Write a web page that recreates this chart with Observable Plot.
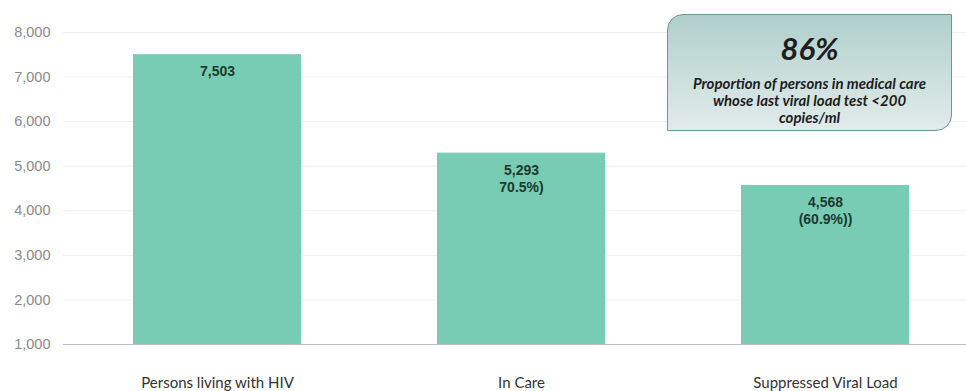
<!DOCTYPE html>
<html>
<head>
<meta charset="utf-8">
<script src="https://cdn.jsdelivr.net/npm/d3@7"></script>
<script src="https://cdn.jsdelivr.net/npm/@observablehq/plot@0.6"></script>
<style>
  html, body { margin: 0; padding: 0; background: #fff; }
  #wrap { position: relative; width: 966px; height: 391px; overflow: hidden; }
  #box {
    position: absolute; left: 667px; top: 14px; width: 285px; height: 117px;
    box-sizing: border-box;
    border: 1.5px solid #6a9896;
    border-radius: 16px 0 16px 0;
    background: linear-gradient(to bottom, #afcfcb 0%, #c9dedb 50%, #e1ebea 100%);
    text-align: center;
    font-family: Lato, "Open Sans", sans-serif;
    font-style: italic; font-weight: bold; color: #1e1e1e;
  }
  #box .big { font-size: 31px; line-height: 30px; margin-top: 18px; }
  #box .small { font-size: 15px; line-height: 17px; margin-top: 12px; }
</style>
</head>
<body>
<div id="wrap"></div>
<script>
const categories = ["Persons living with HIV", "In Care", "Suppressed Viral Load"];
const values = [7503, 5293, 4568];
const valueLabels = ["7,503", "5,293\n70.5%)", "4,568\n(60.9%))"];
const yTicks = [1000, 2000, 3000, 4000, 5000, 6000, 7000, 8000];
const boxHeadline = "86%";
const boxText = ["Proportion of persons in medical care", "whose last viral load test <200", "copies/ml"];

const data = categories.map((c, i) => ({cat: c, value: values[i], label: valueLabels[i]}));

const chart = Plot.plot({
  width: 966,
  height: 391,
  marginLeft: 63,
  marginRight: 0,
  marginTop: 32,
  marginBottom: 47,
  style: {fontFamily: "'Liberation Sans', Arial, sans-serif", background: "#fff"},
  x: {domain: categories, paddingInner: 0.448, paddingOuter: 0.207, align: 0.55, label: null},
  y: {domain: [1000, 8000], label: null},
  marks: [
    Plot.gridY(yTicks, {stroke: "#eeeeee", strokeOpacity: 1}),
    Plot.barY(data, {x: "cat", y1: d => 1000, y2: "value", fill: "#79ccb4"}),
    Plot.ruleY([1000], {stroke: "#bdbdbd", strokeWidth: 1.2}),
    Plot.axisY(yTicks, {tickSize: 0, tickPadding: 13, tickFormat: d3.format(","), fill: "#8a8a8a", fontSize: 14.5, label: null}),
    Plot.axisX({tickSize: 0, tickPadding: 33, fontSize: 15, fill: "#333", fontFamily: "Lato, 'Open Sans', sans-serif", label: null}),
    Plot.text(data, {x: "cat", y: "value", text: "label", lineAnchor: "top", dy: 9, fontSize: 14, fontWeight: 600, fill: "#1c3a30", lineHeight: 1.25})
  ]
});

const wrap = document.getElementById("wrap");
wrap.appendChild(chart);
const box = document.createElement("div");
box.id = "box";
const big = document.createElement("div");
big.className = "big";
big.textContent = boxHeadline;
const small = document.createElement("div");
small.className = "small";
small.innerHTML = boxText.map(t => t.replace(/&/g,"&amp;").replace(/</g,"&lt;")).join("<br>");
box.appendChild(big);
box.appendChild(small);
wrap.appendChild(box);
</script>
</body>
</html>
